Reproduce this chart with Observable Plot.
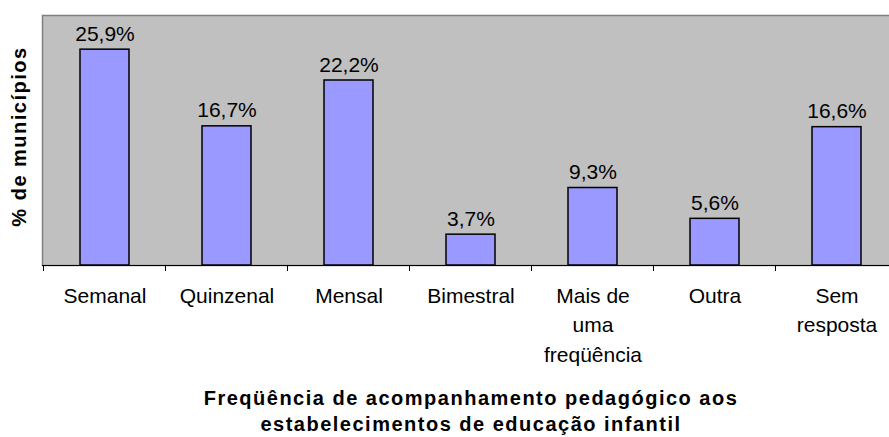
<!DOCTYPE html>
<html>
<head>
<meta charset="utf-8">
<script src="https://cdn.jsdelivr.net/npm/d3@7"></script>
<script src="https://cdn.jsdelivr.net/npm/@observablehq/plot@0.6"></script>
<style>
  html, body { margin: 0; padding: 0; background: #fff; overflow: hidden; }
  g[font-weight="bold"] text { letter-spacing: 1.5px; }
</style>
</head>
<body>
<div id="chart"></div>
<script>
const categories = ["Semanal", "Quinzenal", "Mensal", "Bimestral", "Mais de uma freqüência", "Outra", "Sem resposta"];
const tickLabels = ["Semanal", "Quinzenal", "Mensal", "Bimestral", "Mais de\numa\nfreqüência", "Outra", "Sem\nresposta"];
const values = [25.9, 16.7, 22.2, 3.7, 9.3, 5.6, 16.6];
const yTitle = "% de municípios";
const xTitle = "Freqüência de acompanhamento pedagógico aos\nestabelecimentos de educação infantil";

const data = categories.map((c, i) => ({category: c, value: values[i], label: tickLabels[i]}));
const fmt = v => v.toFixed(1).replace(".", ",") + "%";
const font = "'Liberation Sans', Arial, sans-serif";

// tick marks at the band boundaries, computed from the band scale
function boundaryTicks(index, scales, values, dimensions) {
  const x = scales.x;
  const step = x.step();
  const gap = step - x.bandwidth();
  const y0 = dimensions.height - dimensions.marginBottom;
  const g = d3.create("svg:g").attr("stroke", "#000").attr("stroke-width", 1);
  const xs = categories.map(c => x(c) - gap / 2);
  xs.push(x(categories[categories.length - 1]) + x.bandwidth() + gap / 2);
  for (const px of xs) {
    g.append("line").attr("x1", px).attr("x2", px).attr("y1", y0).attr("y2", y0 + 6);
  }
  return g.node();
}

const chart = Plot.plot({
  width: 889,
  height: 437,
  marginLeft: 42,
  marginRight: -10,
  marginTop: 15,
  marginBottom: 172,
  style: {fontFamily: font, fontSize: "21px", color: "#000", background: "#fff"},
  x: {domain: categories, paddingInner: 0.6, paddingOuter: 0.3, axis: null},
  y: {domain: [0, 30], axis: null},
  marks: [
    Plot.frame({fill: "#c0c0c0", stroke: "#808080", strokeWidth: 1.5}),
    Plot.barY(data, {x: "category", y: "value", fill: "#9999ff", stroke: "#000", strokeWidth: 1.5}),
    Plot.ruleY([0], {stroke: "#000", strokeWidth: 1}),
    boundaryTicks,
    Plot.text(data, {x: "category", y: "value", text: d => fmt(d.value), lineAnchor: "bottom", dy: -9, fontSize: 21, fill: "#000"}),
    Plot.text(data, {x: "category", text: "label", frameAnchor: "bottom", lineAnchor: "top", dy: 16, lineHeight: 1.42, fontSize: 21, fill: "#000"}),
    Plot.text([yTitle], {text: d => d, frameAnchor: "left", textAnchor: "middle", lineAnchor: "middle", rotate: -90, dx: -23, dy: -4, fontSize: 20, fontWeight: "bold", fill: "#000"}),
    Plot.text([xTitle], {text: d => d, frameAnchor: "bottom", lineAnchor: "top", dy: 121, lineHeight: 1.3, fontSize: 20, fontWeight: "bold", fill: "#000"})
  ]
});
document.getElementById("chart").appendChild(chart);
</script>
</body>
</html>
